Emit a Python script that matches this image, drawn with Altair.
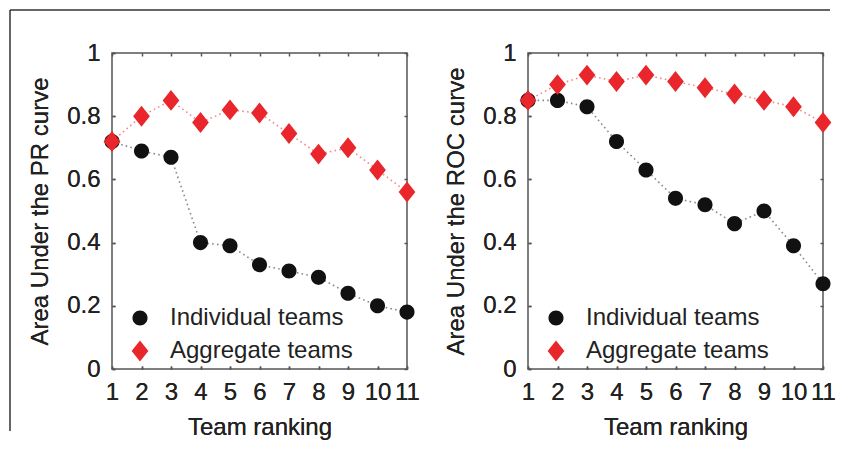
import altair as alt
import pandas as pd

# ---- data ----
ranks = list(range(1, 12))
pr_individual = [0.72, 0.69, 0.67, 0.40, 0.39, 0.33, 0.31, 0.29, 0.24, 0.20, 0.18]
pr_aggregate = [0.72, 0.80, 0.85, 0.78, 0.82, 0.81, 0.745, 0.68, 0.70, 0.63, 0.56]
roc_individual = [0.85, 0.85, 0.83, 0.72, 0.63, 0.54, 0.52, 0.46, 0.50, 0.39, 0.27]
roc_aggregate = [0.85, 0.90, 0.93, 0.91, 0.93, 0.91, 0.89, 0.87, 0.85, 0.83, 0.78]
series_names = ["Individual teams", "Aggregate teams"]
x_ticks = ranks
y_ticks = [0, 0.2, 0.4, 0.6, 0.8, 1]
y_titles = ["Area Under the PR curve", "Area Under the ROC curve"]
x_title = "Team ranking"

FONT = "Liberation Sans"
CIRCLE = "M0.9,0A0.9,0.9,0,1,1,-0.9,0A0.9,0.9,0,1,1,0.9,0Z"
DIAMOND = "M0,-1.25L1,0L0,1.25L-1,0Z"
LINE_COLORS = ["#8a8a8a", "#f08a8a"]
W, H = 295, 316
LBL, TTL, LEG = 24, 24, 24


def panel(ind, agg, ytitle, with_frame=False):
    df = pd.DataFrame({
        "rank": ranks + ranks,
        "value": ind + agg,
        "series": [series_names[0]] * len(ranks) + [series_names[1]] * len(ranks),
    })
    base = alt.Chart(df)
    xs = alt.Scale(domain=[1, 11], nice=False, zero=False)
    ys = alt.Scale(domain=[0, 1], nice=False, zero=False)
    legend = alt.Legend(
        title=None, orient="none", legendX=16, legendY=253, padding=0,
        labelFont=FONT, labelFontSize=LEG, labelColor="#222", labelLimit=400,
        labelOffset=18, rowPadding=9, symbolSize=280, symbolStrokeWidth=0,
    )
    layers = []
    for i, name in enumerate(series_names):
        layers.append(
            base.transform_filter(alt.datum.series == name)
            .mark_line(strokeDash=[1.6, 3.2], strokeWidth=1.6, color=LINE_COLORS[i])
            .encode(
                x=alt.X("rank:Q", scale=xs, axis=alt.Axis(
                    orient="bottom", values=x_ticks, title=x_title,
                    labelFontSize=LBL, titleFontSize=TTL,
                    labelPadding=11, titlePadding=11)),
                y=alt.Y("value:Q", scale=ys, axis=alt.Axis(
                    orient="left", values=y_ticks, format=".1~f", title=ytitle,
                    labelFontSize=LBL, titleFontSize=TTL,
                    labelPadding=12, titlePadding=14)),
            )
        )
    points = base.mark_point(filled=True, size=280, opacity=1).encode(
        x=alt.X("rank:Q", scale=xs, axis=alt.Axis(
            orient="top", values=x_ticks, labels=False, title=None)),
        y=alt.Y("value:Q", scale=ys, axis=alt.Axis(
            orient="right", values=y_ticks, labels=False, title=None)),
        color=alt.Color("series:N", legend=legend, scale=alt.Scale(
            domain=series_names, range=["#111111", "#e8262b"])),
        shape=alt.Shape("series:N", legend=legend, scale=alt.Scale(
            domain=series_names, range=[CIRCLE, DIAMOND])),
    )
    layers.append(points)
    if with_frame:
        one = pd.DataFrame({"k": [0]})
        top = alt.Chart(one).mark_rule(color="#333", strokeWidth=1.5).encode(
            x=alt.value(-102), x2=alt.value(718), y=alt.value(-43))
        left = alt.Chart(one).mark_rule(color="#333", strokeWidth=1.5).encode(
            x=alt.value(-102), y=alt.value(-43), y2=alt.value(378))
        layers += [top, left]
    return alt.layer(*layers).properties(
        width=W, height=H,
        view=alt.ViewBackground(stroke="#555", strokeWidth=1.5),
    )


left_panel = panel(pr_individual, pr_aggregate, y_titles[0], with_frame=True)
right_panel = panel(roc_individual, roc_aggregate, y_titles[1])

chart = (
    alt.hconcat(left_panel, right_panel, spacing=121, bounds="flush")
    .resolve_scale(color="independent", shape="independent")
    .properties(padding=0)
    .configure_view(strokeWidth=0)
    .configure_axis(
        labelFont=FONT, titleFont=FONT, labelFontSize=LBL, titleFontSize=TTL,
        labelColor="#222", titleColor="#222", titleFontWeight="normal",
        grid=False, domain=False, ticks=True, tickSize=3, offset=-3,
        tickColor="#555", tickWidth=1.5, labelFlush=False, labelOverlap=False,
    )
)

chart.save("out.html", embed_options={"renderer": "svg", "actions": False})
